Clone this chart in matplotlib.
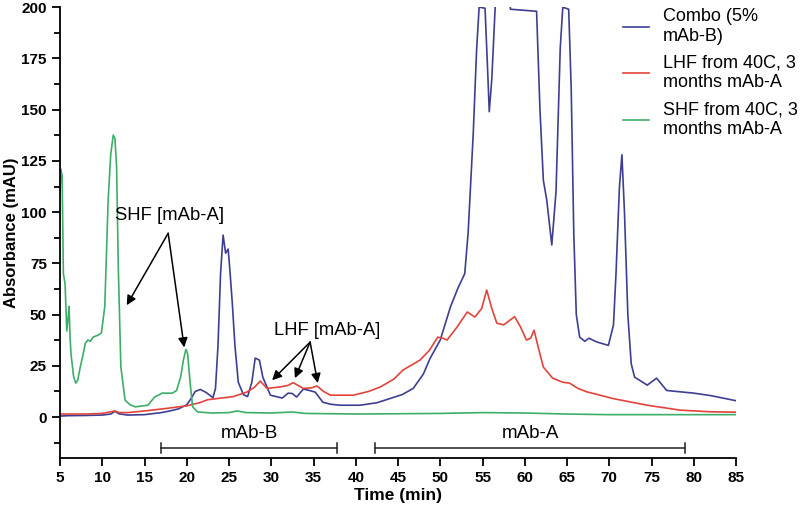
import matplotlib.pyplot as plt

plt.rcParams['font.family'] = ['Liberation Sans', 'DejaVu Sans']

# Combo (5% mAb-B)
combo_t = [5, 6, 8, 10, 11, 11.5, 12, 13, 15, 17, 18, 19, 20, 20.5, 21, 21.6, 22.3, 23.1,
           23.4, 23.7, 24.0, 24.3, 24.6, 24.9, 25.1, 25.4, 25.7, 26.1, 26.7, 27.2, 27.7, 28.1,
           28.6, 29, 29.9, 31.3, 32, 32.5, 33, 33.8, 34.5, 35.2, 36.1, 37, 38.1, 40.5, 42.5,
           44, 45.5, 46.8, 48, 48.8, 50, 51.2, 52.1, 52.9, 53.3, 53.9, 54.3, 54.6, 55.3, 55.6,
           55.8, 56.1, 56.5, 56.7, 58.1, 58.3, 61.4, 61.8, 62.2, 62.6, 63.2, 63.7, 64.2, 64.5,
           65.2, 65.5, 65.8, 66.1, 66.5, 67.1, 67.6, 68.5, 69.9, 70.5, 70.8, 71.2, 71.5, 71.8,
           72.2, 72.6, 73, 74.5, 75.6, 76.8, 78, 80, 82, 85]
combo_y = [0.5, 0.7, 0.8, 1, 1.5, 2.8, 1.6, 1, 1.2, 2.2, 3, 4, 6, 9, 12.5, 13.5, 12, 9.5,
           14, 35, 70, 88.8, 80, 82, 72, 55, 35, 17, 11, 10, 17, 28.8,
           27.8, 19.5, 10.7, 9.3, 11.7, 11.5, 9.8, 13.7, 13, 12.2, 7.3, 6.3, 5.8, 5.8, 7,
           9, 11, 14, 21, 28.7, 37.6, 53.7, 63, 70, 90, 138, 179, 200, 199.5, 170,
           149, 165, 200, 240, 240, 199, 198, 150, 115.6, 106, 84, 110, 180, 200,
           199, 160, 90, 50, 39, 37, 38.5, 36.7, 35, 45, 70, 112, 128, 100,
           50, 26, 19.5, 15.6, 19, 13, 12.5, 11.7, 10.5, 8]

# LHF from 40C, 3 months mAb-A
lhf_t = [5, 8, 10, 11.5, 12, 13, 15, 17.5, 20, 21.5, 22.5, 23.5, 25.5, 27.1, 28, 28.7, 29.5,
         31, 32, 32.6, 33.8, 34.8, 35.4, 36.2, 37, 39.7, 41.5, 42.9, 44.5, 45.6, 47.6, 48.7,
         49.7, 50.3, 50.8, 52, 53.2, 54.1, 54.9, 55.5, 56.1, 56.7, 57.5, 58.8, 59.5, 60.2,
         60.7, 61.1, 61.6, 62.2, 63.3, 64.5, 65.3, 66.3, 67.3, 70.5, 74.5, 78.4, 82, 85]
lhf_y = [1.5, 1.5, 1.8, 3, 2.2, 2.2, 3, 4.2, 5.5, 7, 8.5, 9, 10, 12.2, 14.5, 17.6, 14,
         14.7, 15.5, 16.8, 14, 14.3, 15.2, 12.5, 10.7, 10.7, 12.5, 14.7, 18.5, 23, 27.8, 32.5,
         39, 38.5, 37.6, 44, 51.3, 48.8, 53, 62, 53, 45.8, 45, 49, 44, 37.6,
         38.5, 42.4, 34, 24.4, 19, 17, 16.6, 14, 12.4, 9, 5.8, 3.4, 2.6, 2.4]

# SHF from 40C, 3 months mAb-A
shf_t = [5.0, 5.1, 5.25, 5.4, 5.6, 5.8, 6.0, 6.07, 6.2, 6.3, 6.6, 6.86, 7.1, 7.4, 7.7, 8.0,
         8.3, 8.6, 8.9, 9.5, 9.9, 10.3, 10.7, 11.0, 11.3, 11.5, 11.7, 11.9, 12.2, 12.7, 13.3,
         13.9, 15.4, 16.2, 17.1, 18.3, 18.8, 19.3, 19.6, 19.9, 20.1, 20.4, 20.7, 21.3, 23,
         25, 26, 27, 30, 32.5, 34, 40, 50, 55, 60, 65, 70, 85]
shf_y = [110, 121, 118, 70, 65, 42, 50, 54, 38, 31, 20, 16.6, 18, 24.5, 30, 36,
         37.6, 37, 39, 40, 41, 54, 106, 128, 137.6, 136, 122, 73, 24.6, 8.3, 6,
         5, 5.8, 9.8, 11.7, 11.7, 13, 20, 27.8, 33, 31, 16.6, 5, 2.5, 2,
         2.2, 3, 2.2, 2, 2.5, 1.8, 1.5, 1.8, 2.2, 2, 1.5, 1.2, 1.2]

fig = plt.figure(figsize=(8, 5.13), dpi=100)
ax = fig.add_axes([0.075, 0.107, 0.845, 0.879])

ax.plot(combo_t, combo_y, color='#3d3f92', lw=1.2, label='Combo (5%\nmAb-B)')
ax.plot(lhf_t, lhf_y, color='#e2433b', lw=1.2, label='LHF from 40C, 3\nmonths mAb-A')
ax.plot(shf_t, shf_y, color='#3dae68', lw=1.2, label='SHF from 40C, 3\nmonths mAb-A')

ax.set_xlim(5, 85)
ax.set_ylim(-20, 200)
ax.set_xticks(range(5, 86, 5))
ax.set_yticks(range(0, 201, 25))
ax.set_yticks([-12.5 + 25 * i for i in range(9)], minor=True)
ax.spines['top'].set_visible(False)
ax.spines['right'].set_visible(False)
ax.spines['left'].set_linewidth(1.3)
ax.spines['bottom'].set_linewidth(1.3)
ax.tick_params(axis='both', which='major', length=6, width=1.3, labelsize=11)
ax.tick_params(axis='y', which='minor', length=4, width=1.3)
for lbl in ax.get_xticklabels() + ax.get_yticklabels():
    lbl.set_fontweight('bold')

ax.set_xlabel('Time (min)', fontsize=12.5, fontweight='bold', labelpad=2)
ax.set_ylabel('Absorbance (mAU)', fontsize=12, fontweight='bold', labelpad=2)

# annotations
arrow = dict(arrowstyle='-|>', color='black', lw=1.1, mutation_scale=14, shrinkA=0, shrinkB=0)
ax.text(18.0, 98.5, 'SHF [mAb-A]', fontsize=13.3, ha='center', va='center')
ax.annotate('', xy=(12.9, 54.6), xytext=(17.8, 89.7), arrowprops=arrow)
ax.annotate('', xy=(19.7, 34), xytext=(17.8, 89.7), arrowprops=arrow)

ax.text(36.6, 42.4, 'LHF [mAb-A]', fontsize=13.2, ha='center', va='center')
ax.annotate('', xy=(30.1, 18), xytext=(34.6, 36.6), arrowprops=arrow)
ax.annotate('', xy=(32.8, 19), xytext=(34.6, 36.6), arrowprops=arrow)
ax.annotate('', xy=(35.5, 16.6), xytext=(34.6, 36.6), arrowprops=arrow)

# brackets
for x0, x1, name in [(17.0, 37.8, 'mAb-B'), (42.3, 79.0, 'mAb-A')]:
    ax.plot([x0, x1], [-15, -15], color='#222222', lw=1.1)
    ax.plot([x0, x0], [-12.5, -17.5], color='#222222', lw=1.1)
    ax.plot([x1, x1], [-12.5, -17.5], color='#222222', lw=1.1)
    ax.text((x0 + x1) / 2, -8, name, fontsize=13.5, ha='center', va='center')

ax.legend(loc='upper left', bbox_to_anchor=(0.77, 0.998), bbox_transform=fig.transFigure,
          frameon=False, fontsize=13, handlelength=1.4, handletextpad=0.8,
          labelspacing=0.55, borderaxespad=0)

fig.savefig('out.png', dpi=100)
